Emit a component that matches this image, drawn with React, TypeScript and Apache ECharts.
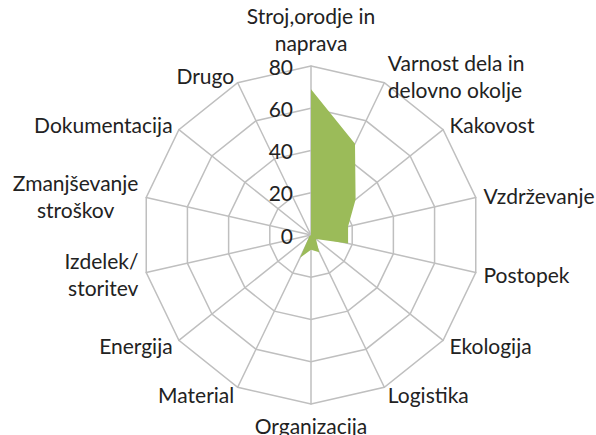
import React, { useEffect, useRef } from "react";
import * as echarts from "echarts";

// Categories in clockwise order, starting at the top
const categories = [
  "Stroj,orodje in\nnaprava",
  "Varnost dela in\ndelovno okolje",
  "Kakovost",
  "Vzdrževanje",
  "Postopek",
  "Ekologija",
  "Logistika",
  "Organizacija",
  "Material",
  "Energija",
  "Izdelek/\nstoritev",
  "Zmanjševanje\nstroškov",
  "Dokumentacija",
  "Drugo",
];
const values = [69, 48, 27, 18, 18, 3, 9, 7, 12, 1, 0, 0, 0, 0];
const axisMax = 80;
const tickInterval = 20;

const FONT = "Lato, 'Noto Sans', sans-serif";
const TEXT = "#222222";
const GRID = "#BFBFBF";
const FS = 21;
const LH = 27;

// ECharts radar lays indicators out counter-clockwise: keep the first, reverse the rest
function toCCW<T>(arr: T[]): T[] {
  return [arr[0], ...arr.slice(1).reverse()];
}

export default function App() {
  const ref = useRef<HTMLDivElement>(null);
  useEffect(() => {
    document.body.style.margin = "0";
    const chart = echarts.init(ref.current!, null, { renderer: "svg" });
    const cats = toCCW(categories);
    const vals = toCCW(values);
    chart.setOption({
      animation: false,
      radar: {
        center: [311, 235],
        radius: 169,
        startAngle: 90,
        shape: "polygon",
        splitNumber: axisMax / tickInterval,
        indicator: cats.map((c, i) => ({
          name: c,
          min: 0,
          max: axisMax,
          axisLabel: { show: i === 0 },
        })),
        axisName: {
          color: TEXT,
          fontFamily: FONT,
          fontSize: FS,
          lineHeight: LH,
          formatter: (name: string) =>
            name.indexOf("Zmanj") === 0
              ? name.split("\n").map((l) => `{c|${l}}`).join("\n")
              : name,
          rich: {
            c: {
              align: "center",
              color: TEXT,
              fontFamily: FONT,
              fontSize: FS,
              lineHeight: LH,
            },
          },
        },
        nameGap: 8,
        axisLabel: {
          show: false,
          color: TEXT,
          fontFamily: FONT,
          fontSize: FS,
          margin: 18,
        },
        axisLine: { lineStyle: { color: GRID, width: 1.5 } },
        splitLine: { lineStyle: { color: GRID, width: 1.5 } },
        splitArea: { show: false },
        axisTick: { show: false },
      },
      series: [
        {
          type: "radar",
          symbol: "none",
          lineStyle: { width: 0 },
          areaStyle: { color: "#9BBB59", opacity: 1 },
          data: [{ value: vals }],
        },
      ],
    });
    return () => chart.dispose();
  }, []);
  return <div ref={ref} style={{ width: 596, height: 435 }} />;
}
